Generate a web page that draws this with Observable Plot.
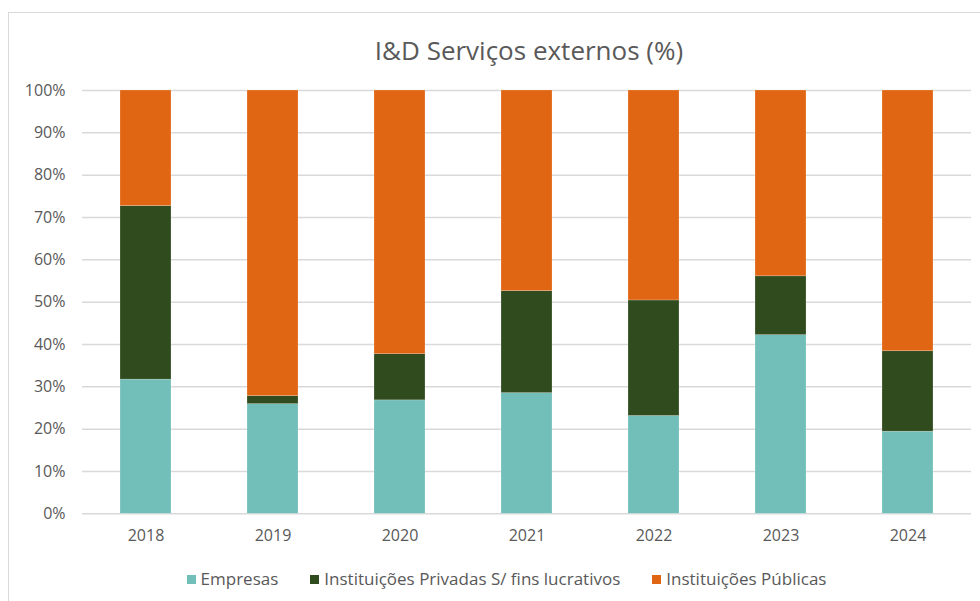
<!DOCTYPE html>
<html>
<head>
<meta charset="utf-8">
<script src="https://cdn.jsdelivr.net/npm/d3@7"></script>
<script src="https://cdn.jsdelivr.net/npm/@observablehq/plot@0.6"></script>
<style>
  body { margin: 0; background: #fff; font-family: "Open Sans", sans-serif; }
  #wrap { position: relative; width: 980px; height: 601px; overflow: hidden; background: #fff; }
  #frame { position: absolute; left: 8px; top: 12px; width: 980px; height: 600px; border: 1px solid #d9d9d9; box-sizing: border-box; }
  #title { position: absolute; left: 0; width: 1058px; top: 32px; text-align: center; font-size: 26px; line-height: 36px; color: #595959; }
  #chart { position: absolute; left: 0; top: 70px; width: 980px; }
  #legend { position: absolute; left: 0; width: 1013px; top: 566px; text-align: center; font-size: 17px; line-height: 26px; color: #595959; white-space: nowrap; }
  .li { display: inline-block; margin: 0 16px; }
  .sw { display: inline-block; width: 9px; height: 9px; margin-right: 5px; vertical-align: 1px; }
</style>
</head>
<body>
<div id="wrap">
  <div id="frame"></div>
  <div id="title">I&amp;D Serviços externos (%)</div>
  <div id="chart"></div>
  <div id="legend"></div>
</div>
<script>
const years = ["2018", "2019", "2020", "2021", "2022", "2023", "2024"];
const seriesNames = ["Empresas", "Instituições Privadas S/ fins lucrativos", "Instituições Públicas"];
const empresas = [31.7, 25.9, 26.8, 28.5, 23.1, 42.2, 19.4];
const privadas = [41.0, 1.9, 10.9, 24.1, 27.3, 13.9, 19.0];
const publicas = [27.3, 72.2, 62.3, 47.4, 49.6, 43.9, 61.6];
const colors = ["#72BEB9", "#304B1D", "#E06614"];
const yTicks = [0, 10, 20, 30, 40, 50, 60, 70, 80, 90, 100];

const seriesValues = [empresas, privadas, publicas];
const data = [];
seriesNames.forEach((s, si) => {
  years.forEach((y, yi) => data.push({year: y, series: s, value: seriesValues[si][yi]}));
});

const chart = Plot.plot({
  width: 980,
  height: 490,
  marginTop: 20,
  marginBottom: 46.7,
  marginLeft: 82,
  marginRight: 9,
  style: { fontFamily: "'Open Sans', sans-serif", fontSize: "16px", color: "#595959", background: "transparent", maxWidth: "none" },
  x: { domain: years, paddingInner: 0.6, paddingOuter: 0.3, label: null },
  y: { domain: [0, 100], label: null },
  color: { domain: seriesNames, range: colors },
  marks: [
    Plot.ruleY(yTicks, { stroke: "#d9d9d9", strokeWidth: 1.5 }),
    Plot.barY(data, Plot.stackY({ order: null }, { x: "year", y: "value", fill: "series", z: "series", stroke: "white", strokeOpacity: 0.35, strokeWidth: 0.6 })),
    Plot.axisY({ ticks: yTicks, tickFormat: d => d + "%", tickSize: 0, tickPadding: 17, fontSize: 16, fill: "#595959", label: null }),
    Plot.axisX({ tickSize: 0, tickPadding: 16, fontSize: 16, fill: "#595959", label: null })
  ]
});
document.getElementById("chart").appendChild(chart);

const legend = document.getElementById("legend");
seriesNames.forEach((s, i) => {
  const item = document.createElement("span");
  item.className = "li";
  const sw = document.createElement("span");
  sw.className = "sw";
  sw.style.background = colors[i];
  item.appendChild(sw);
  item.appendChild(document.createTextNode(s));
  legend.appendChild(item);
});
</script>
</body>
</html>
